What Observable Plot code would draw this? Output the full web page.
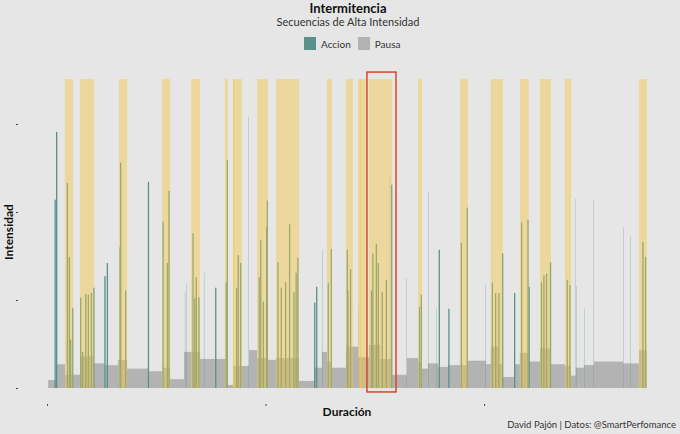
<!DOCTYPE html>
<html><head><meta charset="utf-8">
<script src="https://cdn.jsdelivr.net/npm/d3@7"></script>
<script src="https://cdn.jsdelivr.net/npm/@observablehq/plot@0.6"></script>
<style>
html,body{margin:0;padding:0;}
body{background:#e6e6e6;width:680px;height:434px;overflow:hidden;position:relative;font-family:Lato,"Open Sans",sans-serif;color:#222;}
.abs{position:absolute;white-space:nowrap;line-height:1;}
#title{top:2px;left:0;width:696px;text-align:center;font-weight:bold;font-size:13px;color:#111;}
#subtitle{top:16px;left:0;width:696px;text-align:center;font-size:11px;color:#333;}
#legend{top:37px;left:304px;font-size:10px;color:#333;display:flex;align-items:center;}
.sw{width:12px;height:13px;display:inline-block;margin-right:5px;}
#chart{top:56px;left:0;}
#xlab{top:406px;left:0;width:694px;text-align:center;font-weight:bold;font-size:12px;color:#111;}
#ylab{top:232px;left:9px;font-weight:bold;font-size:12px;color:#111;transform:translate(-50%,-50%) rotate(-90deg);}
#caption{top:420px;right:4px;font-size:9.5px;color:#333;}
</style>
</head><body>
<div id="title" class="abs">Intermitencia</div>
<div id="subtitle" class="abs">Secuencias de Alta Intensidad</div>
<div id="legend" class="abs"><span class="sw" style="background:#5a918d"></span><span style="margin-right:7px">Accion</span><span class="sw" style="background:#b3b3b3"></span><span>Pausa</span></div>
<div id="chart" class="abs"></div>
<div id="xlab" class="abs">Duración</div>
<div id="ylab" class="abs">Intensidad</div>
<div id="caption" class="abs">David Pajón | Datos: @SmartPerfomance</div>
<script>
// Action efforts: start time, duration, intensity
const actionStart = [34,41,90,99,105,114,151,160,174,186,
  200,211,262,273,331,334,357,461,528,548,
  555,631,636,665,673,680,692,718,769,817,
  822,865,872,883,921,968,975,987,1002,1005,
  1054,1069,1089,1107,1127,1137,1145,1222,1231,1260,
  1284,1298,1371,1374,1386,1424,1482,1488,1504,1513,
  1531,1550,1569,1574,1646,1702,1710,1745,1783,1792,
  1836,1893,1920,2007,2035,2050,2065,2082,2137,2169,
  2198,2203,2260,2271,2283,2301,2378,2390,2416,2424,
  2458,2500,2637,2668,2724,2736];
const actionDuration = [6,6,6,6,6,6,6,6,6,6,
  6,6,6,6,6,6,6,6,6,6,
  6,1.2,1.2,6,6,6,6,1.2,6,6,
  6,6,6,6,1.2,6,6,6,6,6,
  6,6,6,6,6,6,6,6,6,1.2,
  6,6,6,6,6,1.2,6,6,6,6,
  6,6,1.2,6,1.2,6,6,1.2,1.2,6,
  6,6,6,1.2,6,6,6,6,6,6,
  6,6,6,6,6,6,6,6,1.2,1.2,
  1.2,1.2,1.2,1.2,6,6];
const actionIntensity = [21.4,29.1,23.3,14.9,5.5,9.1,10.3,4.1,10.7,10.6,
  10.8,11.4,12.7,14.2,16.0,25.6,11.1,23.4,18.9,14.2,
  22.4,10.9,11.9,17.6,10.2,12.6,10.3,13.1,11.4,12.0,
  25.9,11.4,15.1,14.2,30.8,12.6,16.8,9.8,18.3,21.3,
  14.3,11.4,12.0,18.6,10.9,13.1,14.8,9.7,11.5,15.7,
  11.9,15.8,15.7,11.1,13.5,9.4,11.1,15.3,16.4,14.2,
  10.9,12.3,24.0,23.1,12.5,9.2,10.6,22.3,9.1,15.7,
  9.0,16.5,20.5,11.7,12.0,10.8,10.8,15.3,10.8,18.8,
  19.1,11.5,12.0,12.8,13.0,14.3,12.3,11.7,21.5,11.6,
  9.0,21.4,18.3,17.2,16.6,14.9];

// Pauses: start, end, intensity
const pauseStart = [5,41,82,119,151,210,261,325,366,462,526,563,627,663,700,814,828,851,892,924,961,1011,1048,1153,1222,1258,1281,1304,1368,1423,1473,1524,1579,1647,1698,1716,1743,1789,1835,1890,1926,2009,2031,2064,2086,2137,2164,2205,2256,2306,2370,2398,2420,2457,2503,2636,2709];
const pauseEnd   = [41,82,119,151,210,261,325,366,462,526,563,627,663,700,814,828,851,892,924,961,1011,1048,1153,1222,1258,1281,1304,1368,1423,1473,1524,1579,1647,1698,1716,1743,1789,1835,1890,1926,2009,2031,2064,2086,2137,2164,2205,2256,2306,2370,2398,2420,2457,2503,2636,2709,2745];
const pauseIntensity = [0.9,2.7,1.5,1.5,3.6,2.8,2.6,3.2,2.2,1.9,2.3,1.0,4.1,4.1,3.3,3.3,0.35,2.5,2.5,4.3,3.4,3.2,3.4,0.8,2.3,4.1,3.0,2.3,4.7,3.5,4.9,3.3,1.5,3.4,3.0,2.2,2.8,2.4,2.6,2.6,3.1,2.7,4.7,2.7,1.25,2.7,4.0,3.0,4.5,2.7,2.5,1.4,2.3,2.6,3.0,2.8,4.3];

// High-intensity sequences
const seqStart = [82,151,329,526,659,814,851,851,961,1048,1281,1368,1423,1432,1473,1698,1890,2031,2164,2256,2370,2709];
const seqEnd   = [119,215,366,563,700,828,892,858,1011,1153,1304,1400,1460,1437,1579,1716,1926,2086,2205,2306,2398,2745];
const seqTop = 35.1;

// Highlighted sequence
const highlightStart = 1464, highlightEnd = 1597, highlightLow = -0.45, highlightHigh = 35.9;

const actions = actionStart.map((s,i)=>({start:s, end:s+actionDuration[i], value:actionIntensity[i]}));
const pauses = pauseStart.map((s,i)=>({start:s, end:pauseEnd[i], value:pauseIntensity[i]}));
const seqs = seqStart.map((s,i)=>({start:s, end:seqEnd[i]}));

const chart = Plot.plot({
  width: 680, height: 378,
  marginLeft: 18, marginRight: 3, marginTop: 4, marginBottom: 30,
  style: {background: "transparent", color: "#444", overflow: "visible"},
  x: {domain: [-133, 2883], ticks: [0,1000,2000], tickFormat: () => "", tickSize: 2, label: null},
  y: {domain: [-1.82, 37.27], ticks: [0,10,20,30], tickFormat: () => "", tickSize: 2, label: null},
  marks: [
    Plot.rect(pauses, {x1: "start", x2: "end", y1: 0, y2: "value", fill: "#b3b3b3", shapeRendering: "geometricPrecision"}),
    Plot.rect(actions, {x1: "start", x2: "end", y1: 0, y2: "value", fill: "#5a918d", shapeRendering: "geometricPrecision"}),
    Plot.rect(seqs, {x1: "start", x2: "end", y1: 0, y2: seqTop, fill: "#f5c842", fillOpacity: 0.45, shapeRendering: "geometricPrecision"}),
    Plot.rect([{a: highlightStart, b: highlightEnd, lo: highlightLow, hi: highlightHigh}], {x1: "a", x2: "b", y1: "lo", y2: "hi", fill: "none", stroke: "#d6472b", strokeWidth: 1.5})
  ]
});
document.getElementById("chart").appendChild(chart);
</script>
</body></html>
